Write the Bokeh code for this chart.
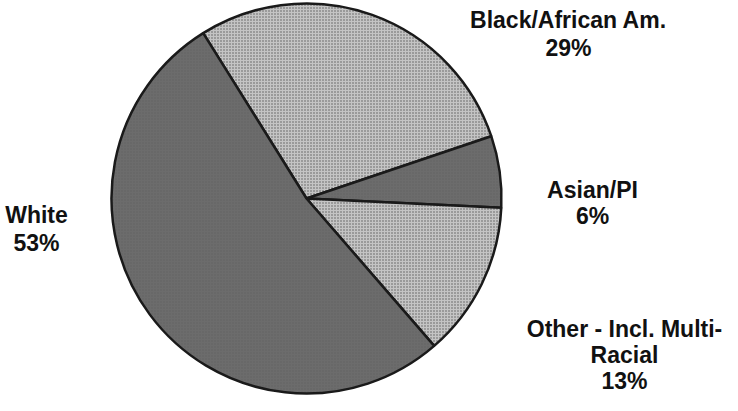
import numpy as np
from bokeh.plotting import figure
from bokeh.models import ColumnDataSource, Range1d
from bokeh.core.properties import value
from bokeh.embed import file_html
from bokeh.resources import INLINE

# ---- data ----
categories = ["Black/African Am.", "Asian/PI", "Other - Incl. Multi-Racial", "White"]
percents = [29, 6, 13, 53]
label_lines = [["Black/African Am.", "29%"], ["Asian/PI", "6%"],
               ["Other - Incl. Multi-", "Racial", "13%"], ["White", "53%"]]

W, H = 722, 395
p = figure(width=W, height=H, output_backend="svg", toolbar_location=None,
           x_range=Range1d(0, W), y_range=Range1d(0, H), min_border=0,
           outline_line_color=None, background_fill_color="white")
p.axis.visible = False
p.grid.visible = False

cx, cy, r = 306, 197, 195
start = np.deg2rad(122.0)
vals = np.array(percents, dtype=float)
ang = vals / vals.sum() * 2 * np.pi
cum = np.concatenate([[0], np.cumsum(ang)])
ends = start - cum[:-1]
starts = start - cum[1:]
fills = ["#c4c4c4", "#6c6c6c", "#c4c4c4", "#6c6c6c"]
hatch_cols = ["#5a5a5a", "#606060", "#5a5a5a", "#606060"]
src = ColumnDataSource(dict(x=[cx]*4, y=[cy]*4, s=starts, e=ends, c=fills, hc=hatch_cols, name=categories))
p.wedge(x="x", y="y", radius=r, start_angle="s", end_angle="e", source=src,
        fill_color="c", line_color="#1a1a1a", line_width=2.5,
        hatch_pattern="dot", hatch_color="hc", hatch_scale=3, hatch_weight=1)

# label anchors (centre x, first baseline y) and line spacing
anchors = [(568, 376, 28), (592, 206, 26), (624, 67, 26), (36, 181, 28)]
tx, ty, tt = [], [], []
for (ax, ay, sp), lines in zip(anchors, label_lines):
    for i, ln in enumerate(lines):
        tx.append(ax)
        ty.append(ay - i * sp)
        tt.append(ln)
p.text(x=tx, y=ty, text=tt, text_align="center", text_baseline="alphabetic",
       text_font=value("Liberation Sans"), text_font_style="bold",
       text_font_size="23px", text_color="#111111")

open("out.html", "w").write(file_html(p, INLINE))
